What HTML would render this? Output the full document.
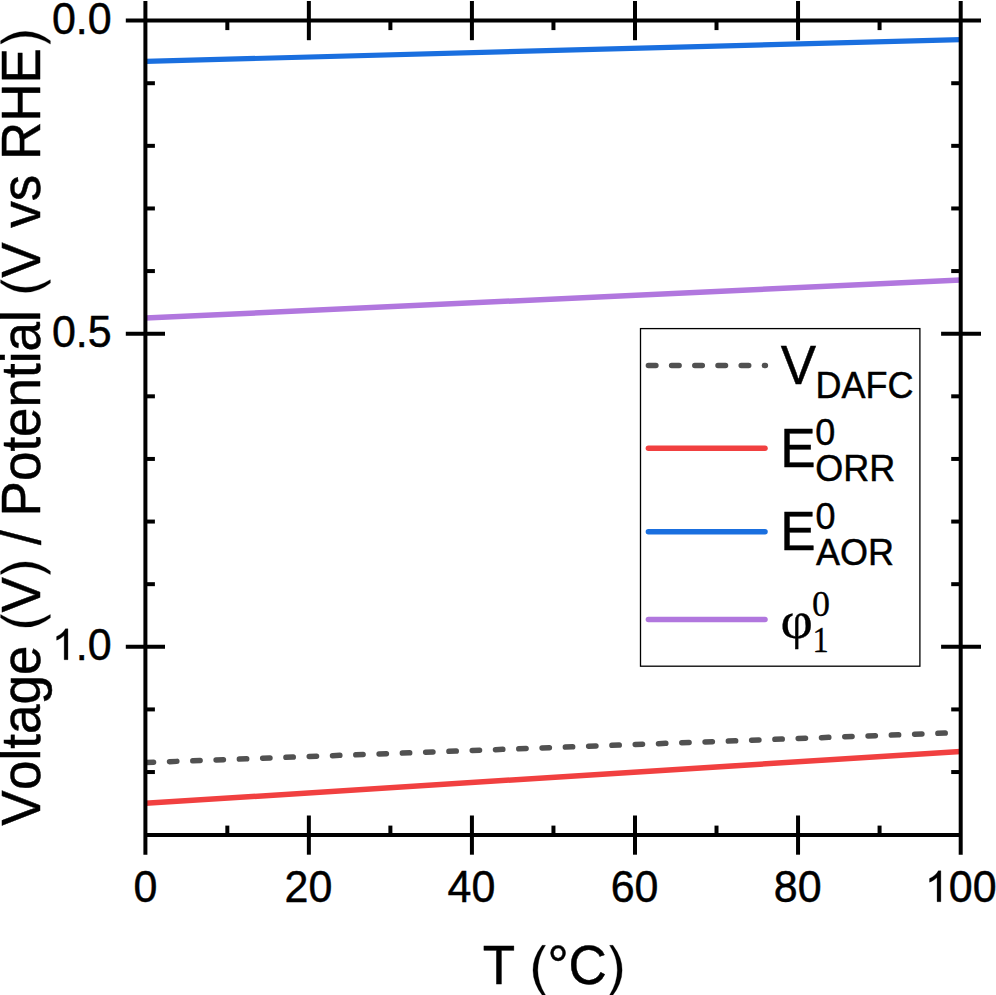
<!DOCTYPE html>
<html><head><meta charset="utf-8"><title>chart</title>
<style>html,body{margin:0;padding:0;background:#fff;overflow:hidden}svg{display:block}text{font-family:"Liberation Sans",sans-serif;fill:#000;font-kerning:none;white-space:pre;stroke:#000;stroke-width:.45px;stroke-linejoin:miter}.s{font-family:"Liberation Serif",serif;stroke-width:.3px}.g{stroke:#000;stroke-width:.3px;vector-effect:non-scaling-stroke}</style>
</head><body>
<svg width="996" height="995" viewBox="0 0 996 995">
<rect x="0" y="0" width="996" height="995" fill="#fff"/>
<clipPath id="pc"><rect x="145.4" y="20.6" width="815.30" height="814.50"/></clipPath>
<g fill="none" stroke-width="5.5" stroke-linecap="butt" clip-path="url(#pc)">
<line x1="145.4" y1="61.4" x2="960.7" y2="39.6" stroke="#1a6fdf" stroke-width="5.2"/>
<line x1="145.4" y1="318.1" x2="960.7" y2="280.0" stroke="#b177de"/>
<line x1="145.4" y1="803.3" x2="960.7" y2="751.4" stroke="#f14040"/>
<line x1="146.25" y1="762.5" x2="960.7" y2="732.5" stroke="#515151" stroke-linecap="round" stroke-dasharray="7.3 16.0"/>
</g>
<g stroke="#000" stroke-width="4" fill="none" stroke-linecap="butt">
<line x1="145.4" y1="1.00" x2="145.4" y2="854.70"/>
<line x1="960.7" y1="1.00" x2="960.7" y2="854.70"/>
<line x1="125.80" y1="20.6" x2="981.00" y2="20.6"/>
<line x1="145.4" y1="835.1" x2="960.7" y2="835.1"/>
<line x1="227.33" y1="20.60" x2="227.33" y2="30.10"/>
<line x1="227.33" y1="835.10" x2="227.33" y2="825.60"/>
<line x1="308.86" y1="1.00" x2="308.86" y2="40.20"/>
<line x1="308.86" y1="815.50" x2="308.86" y2="854.70"/>
<line x1="390.39" y1="20.60" x2="390.39" y2="30.10"/>
<line x1="390.39" y1="835.10" x2="390.39" y2="825.60"/>
<line x1="471.92" y1="1.00" x2="471.92" y2="40.20"/>
<line x1="471.92" y1="815.50" x2="471.92" y2="854.70"/>
<line x1="553.45" y1="20.60" x2="553.45" y2="30.10"/>
<line x1="553.45" y1="835.10" x2="553.45" y2="825.60"/>
<line x1="634.98" y1="1.00" x2="634.98" y2="40.20"/>
<line x1="634.98" y1="815.50" x2="634.98" y2="854.70"/>
<line x1="716.51" y1="20.60" x2="716.51" y2="30.10"/>
<line x1="716.51" y1="835.10" x2="716.51" y2="825.60"/>
<line x1="798.04" y1="1.00" x2="798.04" y2="40.20"/>
<line x1="798.04" y1="815.50" x2="798.04" y2="854.70"/>
<line x1="879.57" y1="20.60" x2="879.57" y2="30.10"/>
<line x1="879.57" y1="835.10" x2="879.57" y2="825.60"/>
<line x1="145.40" y1="83.22" x2="154.90" y2="83.22"/>
<line x1="960.70" y1="83.22" x2="951.20" y2="83.22"/>
<line x1="145.40" y1="145.84" x2="154.90" y2="145.84"/>
<line x1="960.70" y1="145.84" x2="951.20" y2="145.84"/>
<line x1="145.40" y1="208.46" x2="154.90" y2="208.46"/>
<line x1="960.70" y1="208.46" x2="951.20" y2="208.46"/>
<line x1="145.40" y1="271.08" x2="154.90" y2="271.08"/>
<line x1="960.70" y1="271.08" x2="951.20" y2="271.08"/>
<line x1="125.80" y1="333.70" x2="165.00" y2="333.70"/>
<line x1="941.10" y1="333.70" x2="981.00" y2="333.70"/>
<line x1="145.40" y1="396.32" x2="154.90" y2="396.32"/>
<line x1="960.70" y1="396.32" x2="951.20" y2="396.32"/>
<line x1="145.40" y1="458.94" x2="154.90" y2="458.94"/>
<line x1="960.70" y1="458.94" x2="951.20" y2="458.94"/>
<line x1="145.40" y1="521.56" x2="154.90" y2="521.56"/>
<line x1="960.70" y1="521.56" x2="951.20" y2="521.56"/>
<line x1="145.40" y1="584.18" x2="154.90" y2="584.18"/>
<line x1="960.70" y1="584.18" x2="951.20" y2="584.18"/>
<line x1="125.80" y1="646.80" x2="165.00" y2="646.80"/>
<line x1="941.10" y1="646.80" x2="981.00" y2="646.80"/>
<line x1="145.40" y1="709.42" x2="154.90" y2="709.42"/>
<line x1="960.70" y1="709.42" x2="951.20" y2="709.42"/>
<line x1="145.40" y1="772.04" x2="154.90" y2="772.04"/>
<line x1="960.70" y1="772.04" x2="951.20" y2="772.04"/>
</g>
<g transform="translate(145.40,901.70)">
<text transform="translate(-11.96,0) scale(1,1.0405)" font-size="43">0</text>
</g>
<g transform="translate(308.46,901.70)">
<text transform="translate(-23.91,0) scale(1,1.0405)" font-size="43">20</text>
</g>
<g transform="translate(471.52,901.70)">
<text transform="translate(-23.91,0) scale(1,1.0405)" font-size="43">40</text>
</g>
<g transform="translate(634.58,901.70)">
<text transform="translate(-23.91,0) scale(1,1.0405)" font-size="43">60</text>
</g>
<g transform="translate(797.64,901.70)">
<text transform="translate(-23.91,0) scale(1,1.0405)" font-size="43">80</text>
</g>
<g transform="translate(960.70,901.70)">
<path class="g" transform="translate(-35.87,0) scale(0.020996,-0.020996)" d="M763 0H583V1147Q518 1085 412.5 1023T223 930V1104Q373 1174.5 485 1275T644 1472H763Z"/>
<text transform="translate(-11.96,0) scale(1,1.0405)" font-size="43">00</text>
</g>
<g transform="translate(111.70,33.50)">
<text transform="translate(-59.78,0) scale(1,1.0405)" font-size="43">0.0</text>
</g>
<g transform="translate(111.70,346.60)">
<text transform="translate(-59.78,0) scale(1,1.0405)" font-size="43">0.5</text>
</g>
<g transform="translate(111.70,659.70)">
<path class="g" transform="translate(-59.78,0) scale(0.020996,-0.020996)" d="M763 0H583V1147Q518 1085 412.5 1023T223 930V1104Q373 1174.5 485 1275T644 1472H763Z"/>
<text transform="translate(-35.86,0) scale(1,1.0405)" font-size="43">.0</text>
</g>
<g transform="translate(553.60,983.90)">
<text transform="translate(-70.93,0) scale(1,1.0405)" font-size="53">T </text>
<path class="g" transform="translate(-23.83,0) scale(0.025879,-0.025879)" d="M479 -431Q330 -243 227 9T124 531Q124 769 201 987Q291 1240 479 1491H608Q487 1283 448 1194Q387 1056 352 906Q309 719 309 530Q309 49 608 -431H479Z"/>
<text transform="translate(-6.19,0) scale(1,1.0405)" font-size="53">°C</text>
<path class="g" transform="translate(53.28,0) scale(0.025879,-0.025879)" d="M234 -431H105Q404 49 404 530Q404 718 361 903Q327 1053 266 1191Q227 1281 105 1491H234Q422 1240 512 987Q589 769 589 531Q589 261 485.5 9T234 -431Z"/>
</g>
<g transform="translate(40.20,428.10) rotate(-90)">
<text transform="translate(-397.64,0) scale(1,1.06)" font-size="53">V</text>
<text transform="translate(-361.89,0) scale(1,1.06)" font-size="53">oltage</text>
<text transform="translate(-216.89,0) scale(1,1.06)" font-size="53"> </text>
<path class="g" transform="translate(-202.16,-1.0) scale(0.025879,-0.025879)" d="M479 -431Q330 -243 227 9T124 531Q124 769 201 987Q291 1240 479 1491H608Q487 1283 448 1194Q387 1056 352 906Q309 719 309 530Q309 49 608 -431H479Z"/>
<text transform="translate(-184.51,0) scale(1,1.06)" font-size="53">V</text>
<path class="g" transform="translate(-149.16,-1.0) scale(0.025879,-0.025879)" d="M234 -431H105Q404 49 404 530Q404 718 361 903Q327 1053 266 1191Q227 1281 105 1491H234Q422 1240 512 987Q589 769 589 531Q589 261 485.5 9T234 -431Z"/>
<text transform="translate(-131.51,0) scale(1,1.06)" font-size="53"> / </text>
<text transform="translate(-88.34,0) scale(1,1.06)" font-size="53">Potential </text>
<path class="g" transform="translate(132.64,-1.0) scale(0.025879,-0.025879)" d="M479 -431Q330 -243 227 9T124 531Q124 769 201 987Q291 1240 479 1491H608Q487 1283 448 1194Q387 1056 352 906Q309 719 309 530Q309 49 608 -431H479Z"/>
<text transform="translate(150.29,0) scale(1,1.06)" font-size="53">V vs RHE</text>
<path class="g" transform="translate(381.29,-1.0) scale(0.025879,-0.025879)" d="M234 -431H105Q404 49 404 530Q404 718 361 903Q327 1053 266 1191Q227 1281 105 1491H234Q422 1240 512 987Q589 769 589 531Q589 261 485.5 9T234 -431Z"/>
</g>
<rect x="640.5" y="328.6" width="279.4" height="337.6" fill="#fff" stroke="#000" stroke-width="1.3"/>
<g fill="none" stroke-width="5.5" stroke-linecap="round">
<line x1="648.4" y1="365.4" x2="765.4" y2="365.4" stroke="#515151" stroke-dasharray="7.5 15.7"/>
<line x1="648.4" y1="448.2" x2="765" y2="448.2" stroke="#f14040"/>
<line x1="648.4" y1="531.7" x2="765" y2="531.7" stroke="#1a6fdf"/>
<line x1="648.4" y1="619.6" x2="765" y2="619.6" stroke="#b177de"/>
</g>
<g transform="translate(780.80,383.50)">
<text transform="translate(0.00,0) scale(1,1.0405)" font-size="53">V</text>
</g>
<g transform="translate(815.60,397.60)">
<text transform="translate(0.00,0) scale(1,1.0405)" font-size="36">DAFC</text>
</g>
<g transform="translate(780.30,466.50)">
<text transform="translate(0.00,0) scale(1,1.0405)" font-size="53">E</text>
</g>
<g transform="translate(815.20,444.80)">
<text transform="translate(0.00,0) scale(1,1.0405)" font-size="36">0</text>
</g>
<g transform="translate(815.20,480.80)">
<text transform="translate(0.00,0) scale(1,1.0405)" font-size="36">ORR</text>
</g>
<g transform="translate(780.30,549.80)">
<text transform="translate(0.00,0) scale(1,1.0405)" font-size="53">E</text>
</g>
<g transform="translate(815.40,528.80)">
<text transform="translate(0.00,0) scale(1,1.0405)" font-size="36">0</text>
</g>
<g transform="translate(816.00,564.80)">
<text transform="translate(0.00,0) scale(1,1.0405)" font-size="36">AOR</text>
</g>
<text transform="translate(780.60,637.60) scale(1.06,1)" class="s" font-size="53">φ</text>
<text transform="translate(812.00,616.20)" class="s" font-size="36">0</text>
<text transform="translate(812.60,651.80) scale(0.9,1)" class="s" font-size="36">1</text>
</svg>
</body></html>
